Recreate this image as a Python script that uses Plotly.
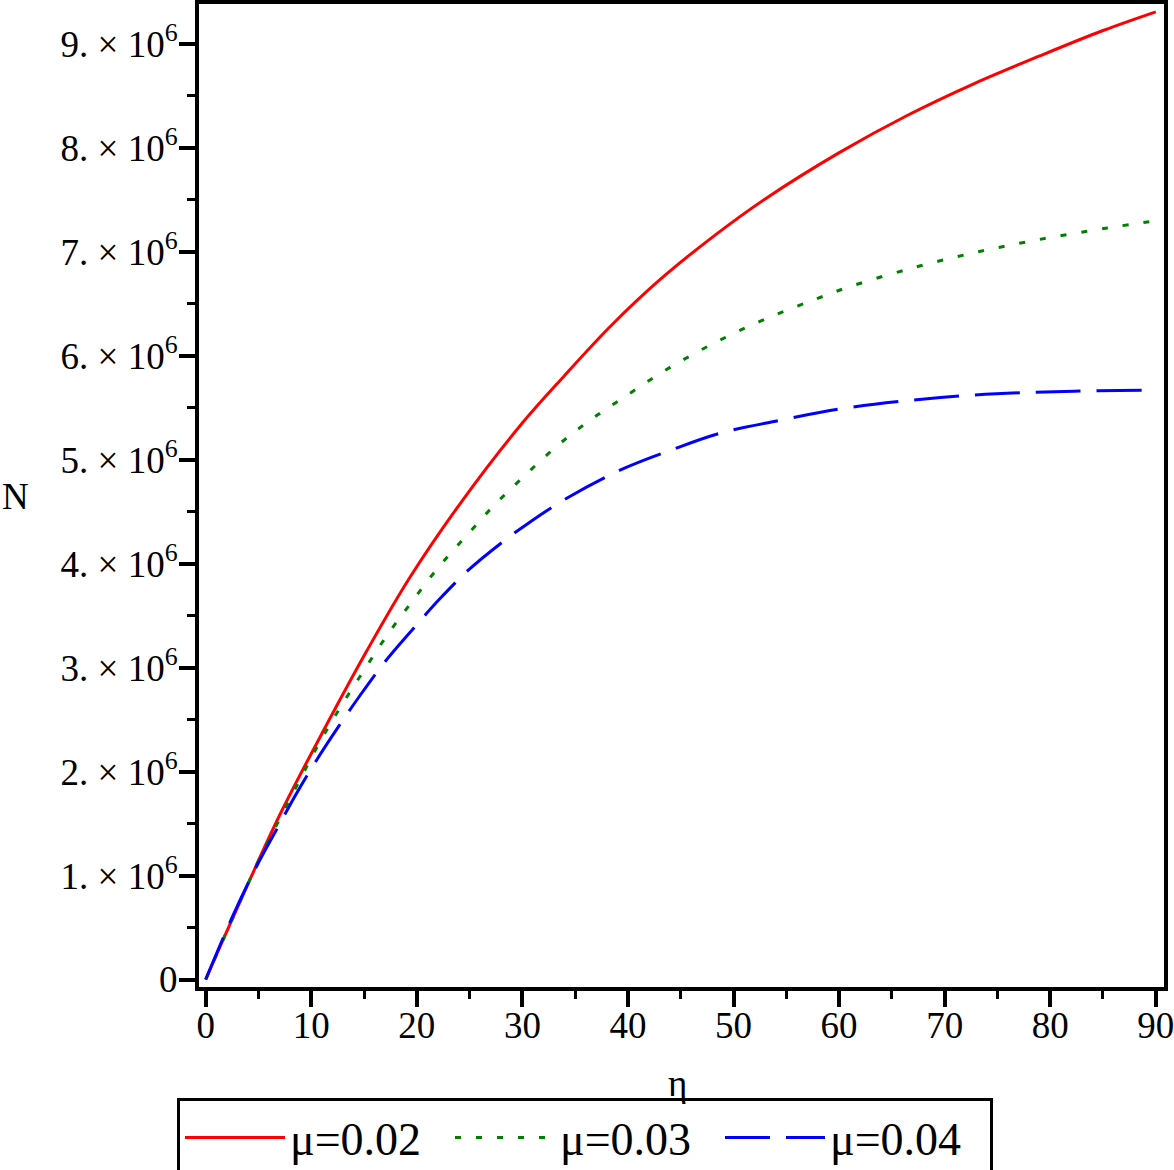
import plotly.graph_objects as go

# Data
eta_02 = [0, 2.6, 7.0, 11.5, 15.25, 19.35, 24.4, 29.8, 33.9, 38.3, 43.0, 48.1, 53.0,
          60.1, 66.4, 72.7, 79.0, 85.0, 90]
N_02 = [0, 0.60e6, 1.58e6, 2.46e6, 3.16e6, 3.87e6, 4.62e6, 5.33e6, 5.80e6, 6.28e6,
        6.73e6, 7.15e6, 7.51e6, 7.96e6, 8.31e6, 8.615e6, 8.885e6, 9.13e6, 9.31e6]

eta_03 = [0, 2.6, 5, 8.77, 10.67, 12.7, 14.9, 17.1, 19.5, 22.0, 24.7, 27.4, 30.25,
          33.25, 36.4, 39.9, 43.35, 46.8, 50.3, 54.1, 57.9, 60.7, 66.4, 72.7, 79.0, 85.4, 90]
N_03 = [0, 0.60e6, 1.14e6, 1.89e6, 2.26e6, 2.61e6, 2.96e6, 3.30e6, 3.63e6, 3.96e6,
        4.27e6, 4.57e6, 4.85e6, 5.13e6, 5.38e6, 5.62e6, 5.85e6, 6.05e6, 6.23e6,
        6.40e6, 6.55e6, 6.655e6, 6.83e6, 6.99e6, 7.12e6, 7.23e6, 7.30e6]

eta_04 = [0, 2.6, 4.8, 6.7, 8.6, 10.5, 12.56, 14.6, 17.0, 19.7, 22.2, 24.9, 28.0,
          30.7, 34.2, 39.25, 44.0, 48.7, 54.4, 60.1, 69.6, 75.9, 82.2, 89.0]
N_04 = [0, 0.62e6, 1.085e6, 1.44e6, 1.79e6, 2.11e6, 2.43e6, 2.73e6, 3.06e6, 3.38e6,
        3.665e6, 3.94e6, 4.20e6, 4.40e6, 4.63e6, 4.90e6, 5.09e6, 5.255e6, 5.38e6,
        5.49e6, 5.60e6, 5.64e6, 5.66e6, 5.67e6]

series_names = ["μ=0.02", "μ=0.03", "μ=0.04"]

x_tickvals = [0, 10, 20, 30, 40, 50, 60, 70, 80, 90]
y_tickvals = [0, 1e6, 2e6, 3e6, 4e6, 5e6, 6e6, 7e6, 8e6, 9e6]
y_ticktext = ["0"] + [f"{k}. × 10<sup>6</sup>" for k in range(1, 10)]

FONT = "Liberation Serif"

fig = go.Figure()
fig.add_trace(go.Scatter(x=eta_02, y=N_02, mode="lines", name=series_names[0],
                         line=dict(color="#ff0000", width=3, shape="spline", smoothing=1.0)))
fig.add_trace(go.Scatter(x=eta_03, y=N_03, mode="lines", name=series_names[1],
                         line=dict(color="#008000", width=3, shape="spline", smoothing=1.0,
                                   dash="6px,15px")))
fig.add_trace(go.Scatter(x=eta_04, y=N_04, mode="lines", name=series_names[2],
                         line=dict(color="#0000ff", width=3, shape="spline", smoothing=1.0,
                                   dash="45px,16px")))

axis_common = dict(
    showline=True, linewidth=4, linecolor="black", mirror=True,
    showgrid=False, zeroline=False, automargin=False,
    ticks="outside", ticklen=16, tickwidth=4, tickcolor="black",
    tickfont=dict(family=FONT, size=37, color="black"),
    ticklabeloverflow="allow",
)

fig.update_xaxes(
    range=[-0.635, 90.78], tickmode="array", tickvals=x_tickvals,
    ticktext=[str(v) for v in x_tickvals], ticklabelstandoff=-13,
    minor=dict(ticks="outside", ticklen=8, tickwidth=3, tickcolor="black",
               dtick=5, tick0=0, showgrid=False),
    **axis_common,
)
fig.update_yaxes(
    range=[-0.072e6, 9.385e6], tickmode="array", tickvals=y_tickvals,
    ticktext=y_ticktext, ticklabelstandoff=-6,
    minor=dict(ticks="outside", ticklen=8, tickwidth=3, tickcolor="black",
               dtick=0.5e6, tick0=0, showgrid=False),
    **axis_common,
)

fig.add_annotation(text="η", xref="paper", yref="paper",
                   x=(677 - 199) / 965, y=(987 - 1083) / 983,
                   xanchor="center", yanchor="middle", showarrow=False,
                   font=dict(family=FONT, size=37, color="black"))
fig.add_annotation(text="N", xref="paper", yref="paper",
                   x=(15 - 199) / 965, y=(987 - 496) / 983,
                   xanchor="center", yanchor="middle", showarrow=False,
                   font=dict(family=FONT, size=37, color="black"))

fig.update_layout(
    width=1174, height=1170,
    margin=dict(l=199, r=10, t=4, b=183, autoexpand=False),
    paper_bgcolor="white", plot_bgcolor="white",
    font=dict(family=FONT, color="black"),
    showlegend=True,
    legend=dict(
        orientation="h", x=(177 - 199) / 965, y=(987 - 1098) / 983,
        xanchor="left", yanchor="top",
        bordercolor="black", borderwidth=3, bgcolor="white",
        font=dict(family=FONT, size=46, color="black"),
        itemwidth=100, tracegroupgap=0,
        entrywidth=155, entrywidthmode="pixels",
    ),
)

fig.write_html("out.html", config={"displayModeBar": False},
               post_script="document.body.style.margin='0';document.body.style.overflow='hidden';")
